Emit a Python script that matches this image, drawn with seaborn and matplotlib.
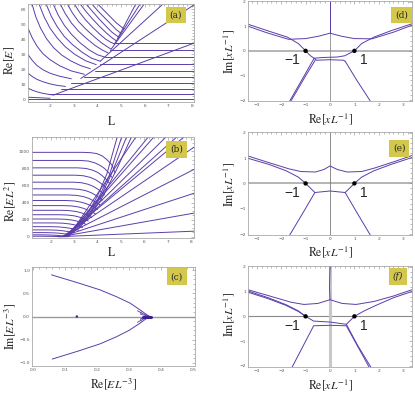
import matplotlib
matplotlib.use("Agg")
import matplotlib.pyplot as plt
import seaborn as sns
import pandas as pd
from matplotlib.ticker import MultipleLocator

# ---------------- values ----------------
# (a) Re[E] against L
a_falling = [
    [(1.07, 1.5), (1.5, 1.2), (2.0, 0.8)],
    [(1.07, 7.5), (1.25, 6.2), (1.45, 5.1), (1.7, 4.1), (1.95, 3.4), (2.15, 3.0)],
    [(1.07, 17.5), (1.25, 15.3), (1.45, 13.4), (1.7, 11.8), (2.0, 10.4), (2.3, 9.4), (2.65, 8.7)],
    [(1.07, 30), (1.25, 26), (1.45, 22.6), (1.7, 19.8), (2.0, 17.5), (2.4, 15.5), (2.9, 13.8)],
    [(1.07, 47.5), (1.25, 41), (1.45, 35.5), (1.7, 30.5), (2.0, 26.5), (2.4, 22.5),
     (2.9, 19.0), (3.45, 16.8)],
    [(1.25, 63), (1.4, 55), (1.6, 47.5), (1.85, 40.5), (2.15, 34.5), (2.5, 29.5),
     (2.9, 25.5), (3.3, 22.5), (3.7, 20.5)],
    [(1.55, 63), (1.75, 55), (2.0, 47.5), (2.3, 41), (2.65, 35), (3.05, 30), (3.5, 25.8),
     (3.95, 23.2)],
    [(1.85, 63), (2.05, 55.5), (2.3, 48.5), (2.6, 42), (2.95, 36.5), (3.35, 31.5),
     (3.75, 27.5), (4.12, 25.5)],
    [(2.15, 63), (2.35, 56), (2.6, 49.5), (2.9, 43.5), (3.25, 38), (3.65, 33), (4.0, 29.8),
     (4.3, 28.3)],
    [(2.45, 63), (2.65, 57), (2.9, 51), (3.2, 45.5), (3.55, 40.5), (3.9, 36), (4.2, 33),
     (4.45, 31)],
    [(2.75, 63), (2.95, 57.5), (3.2, 52), (3.5, 47), (3.85, 42), (4.15, 38), (4.4, 35.3),
     (4.58, 33.5)],
    [(3.05, 63), (3.25, 58), (3.5, 53), (3.8, 48), (4.1, 43.5), (4.35, 40.2), (4.55, 38.2),
     (4.72, 37)],
    [(3.3, 63), (3.55, 58), (3.8, 53.5), (4.1, 48.5), (4.4, 44), (4.6, 41.3), (4.8, 39)],
    [(3.55, 63), (3.8, 58.5), (4.05, 54), (4.35, 49), (4.6, 45), (4.9, 41.5)],
    [(3.8, 63), (4.05, 58.5), (4.3, 54.5), (4.55, 50.5), (4.8, 46.5), (5.0, 44)],
    [(4.05, 63), (4.3, 59), (4.55, 55), (4.8, 51), (5.12, 47)],
]
a_levels = [0.3, 3.5, 6.8, 10.8, 15.2, 19.3, 23.6, 28.3, 33.0, 37.5]
a_level_start = [1.07, 1.95, 2.45, 2.9, 3.45, 3.9, 4.12, 4.33, 4.54, 4.75]
a_level_end = 8.08
a_rising = [
    [(2.15, 3.0), (8.08, 37.5)],
    [(3.3, 14.0), (8.08, 63)],
    [(4.12, 25.5), (6.73, 63)],
    [(4.58, 33.5), (5.95, 63)],
    [(4.72, 37.0), (5.78, 63)],
    [(4.85, 40.5), (5.6, 63)],
]

# (b) Re[E L^2] against L
b_bent = [
    [(1.19, 990), (3.38, 990), (3.7, 986), (3.96, 976), (4.2, 948), (4.39, 906), (4.55, 862),
     (4.64, 828), (4.74, 750)],
    [(1.19, 895), (3.25, 895), (3.6, 888), (3.9, 865), (4.12, 835), (4.3, 800), (4.48, 750),
     (4.6, 700)],
    [(1.19, 808), (3.15, 808), (3.5, 801), (3.8, 780), (4.02, 752), (4.2, 715), (4.38, 670),
     (4.5, 630)],
    [(1.19, 722), (3.05, 722), (3.4, 715), (3.7, 695), (3.92, 668), (4.1, 635), (4.28, 595),
     (4.4, 560)],
    [(1.19, 640), (2.95, 640), (3.3, 634), (3.6, 615), (3.82, 590), (4.0, 560), (4.18, 522),
     (4.3, 490)],
    [(1.19, 562), (2.85, 562), (3.2, 556), (3.5, 540), (3.72, 517), (3.9, 490), (4.08, 456),
     (4.2, 430)],
    [(1.19, 490), (2.75, 490), (3.1, 485), (3.4, 470), (3.62, 450), (3.8, 425), (3.98, 396),
     (4.1, 375)],
    [(1.19, 425), (2.65, 425), (3.0, 420), (3.3, 405), (3.52, 387), (3.7, 365), (3.88, 340),
     (4.0, 320)],
    [(1.19, 365), (2.55, 365), (2.9, 361), (3.2, 348), (3.42, 331), (3.6, 310), (3.78, 287),
     (3.9, 270)],
    [(1.19, 310), (2.45, 310), (2.8, 306), (3.1, 295), (3.32, 279), (3.5, 260), (3.65, 240),
     (3.75, 225)],
    [(1.19, 258), (2.35, 258), (2.7, 255), (3.0, 245), (3.22, 230), (3.4, 212), (3.52, 198),
     (3.6, 185)],
    [(1.19, 208), (2.25, 208), (2.6, 205), (2.9, 196), (3.12, 183), (3.3, 168), (3.42, 155),
     (3.5, 145)],
    [(1.19, 162), (2.15, 162), (2.5, 159), (2.8, 150), (3.0, 140), (3.15, 128), (3.27, 117),
     (3.35, 108)],
    [(1.19, 118), (2.0, 118), (2.35, 115), (2.6, 108), (2.82, 99), (3.0, 90), (3.12, 82),
     (3.2, 75)],
    [(1.19, 80), (1.9, 80), (2.25, 77), (2.5, 70), (2.7, 62), (2.85, 55), (3.0, 45)],
    [(1.19, 48), (1.8, 48), (2.15, 45), (2.4, 40), (2.57, 34), (2.7, 28), (2.85, 20)],
    [(1.19, 22), (1.6, 22), (1.95, 20), (2.2, 17), (2.37, 13.5), (2.5, 10), (2.7, 5)],
    [(1.19, 6), (1.5, 6), (2.1, 4), (2.4, 1)],
]
b_fan = [
    [(2.3, 0), (8.13, 65)],
    [(2.4, 0), (8.13, 277)],
    [(2.45, 0), (8.13, 510)],
    [(2.5, 0), (8.13, 790)],
    [(2.5, 0), (8.13, 1050)],
    [(2.55, 0), (7.7, 1170)],
    [(2.6, 0), (7.39, 1170)],
    [(2.6, 0), (6.93, 1170)],
    [(2.65, 0), (6.41, 1170)],
    [(2.7, 0), (6.17, 1170)],
    [(2.75, 0), (5.64, 1170)],
]
b_bundle = [
    [(2.5, 0), (3.0, 90), (3.5, 240), (4.0, 480), (4.4, 740), (4.84, 1170)],
    [(2.55, 0), (3.0, 80), (3.5, 210), (4.0, 430), (4.5, 720), (5.03, 1170)],
    [(2.6, 0), (3.1, 90), (3.6, 230), (4.1, 450), (4.6, 740), (5.24, 1170)],
    [(2.65, 0), (3.2, 100), (3.7, 250), (4.2, 460), (4.8, 780), (5.45, 1170)],
]

# (c) Im[E L^-3] against Re[E L^-3]
c_branches = [
    [(0.058, 0.90), (0.137, 0.735), (0.209, 0.577), (0.26, 0.43), (0.303, 0.29),
     (0.334, 0.145), (0.355, 0.04), (0.365, 0.0)],
    [(0.06, -0.92), (0.14, -0.75), (0.21, -0.59), (0.26, -0.44), (0.30, -0.30),
     (0.333, -0.15), (0.355, -0.04), (0.365, 0.0)],
]
c_wiggles = [
    [(0.326, 0.125), (0.345, 0.055), (0.36, 0.012)],
    [(0.338, 0.10), (0.336, 0.05), (0.352, 0.02), (0.362, 0.0)],
    [(0.326, -0.125), (0.345, -0.055), (0.36, -0.012)],
    [(0.338, -0.10), (0.336, -0.05), (0.352, -0.02), (0.362, 0.0)],
]
c_knot = [[(0.345, 0.0), (0.368, 0.0)]]
c_dot_x = [0.137]
c_dot_y = [0.0]

# (d), (e), (f) Im[x L^-1] against Re[x L^-1]
d_curves = [
    [(0.0, 2.04), (0.0, 0.72)],
    [(-3.35, 1.0), (-2.6, 0.74), (-1.7, 0.47), (-1.0, 0.5), (-0.45, 0.6), (0.0, 0.72),
     (0.45, 0.6), (1.0, 0.5), (1.72, 0.49), (2.6, 0.76), (3.35, 1.04)],
    [(-3.35, 1.08), (-2.5, 0.8), (-1.75, 0.56), (-1.3, 0.3), (-1.0, 0.0)],
    [(3.35, 1.1), (2.5, 0.82), (1.8, 0.56), (1.3, 0.3), (1.0, 0.0)],
    [(-1.0, 0.0), (-0.8, -0.2), (-0.65, -0.3), (-0.3, -0.27), (0.3, -0.25),
     (0.6, -0.2), (0.8, -0.1), (1.0, 0.0)],
    [(-0.65, -0.3), (-0.55, -0.38), (0.0, -0.36), (0.55, -0.38), (0.62, -0.42)],
    [(-0.65, -0.3), (-1.05, -1.0), (-1.65, -2.04)],
    [(-0.6, -0.37), (-1.02, -1.05), (-1.6, -2.04)],
    [(0.62, -0.42), (1.1, -1.2), (1.65, -2.04)],
]
e_curves = [
    [(-3.35, 1.08), (-2.5, 0.82), (-1.7, 0.58), (-1.2, 0.47), (-0.6, 0.45),
     (-0.25, 0.55), (0.0, 0.69), (0.3, 0.55), (0.7, 0.45), (1.3, 0.47),
     (1.8, 0.6), (2.6, 0.85), (3.35, 1.1)],
    [(-3.35, 0.99), (-2.5, 0.75), (-1.8, 0.5), (-1.3, 0.25), (-1.0, 0.0)],
    [(3.35, 1.02), (2.5, 0.75), (1.8, 0.5), (1.3, 0.25), (1.0, 0.0)],
    [(-1.0, 0.0), (-0.62, -0.36), (0.0, -0.3), (0.62, -0.36), (1.0, 0.0)],
    [(-0.62, -0.36), (-1.1, -1.15), (-1.65, -2.04)],
    [(0.62, -0.36), (1.1, -1.15), (1.65, -2.04)],
]
f_curves = [
    [(0.0, 2.04), (-0.02, 1.2), (0.0, 0.67)],
    [(-3.35, 1.07), (-2.4, 0.8), (-1.6, 0.57), (-1.07, 0.48), (-0.5, 0.52), (0.0, 0.67),
     (0.5, 0.52), (1.07, 0.48), (1.8, 0.6), (2.6, 0.82), (3.35, 1.07)],
    [(-3.35, 1.02), (-2.5, 0.74), (-1.8, 0.47), (-1.3, 0.22), (-1.0, 0.0)],
    [(-3.35, 0.97), (-2.5, 0.7), (-1.8, 0.44), (-1.3, 0.2), (-1.0, 0.0)],
    [(1.0, 0.0), (1.4, 0.22), (1.9, 0.45), (2.6, 0.75), (3.35, 1.0)],
    [(-1.0, 0.0), (-0.67, -0.19), (0.0, -0.23), (0.67, -0.32), (1.0, 0.0)],
    [(-1.55, -2.04), (-0.67, -0.38), (0.0, -0.36), (0.67, -0.38), (1.6, -2.04)],
    [(0.67, -0.32), (1.12, -1.15), (1.67, -2.04)],
]
turning_x = [-1.0, 1.0]
turning_y = [0.0, 0.0]
turning_text = ["\u22121", "1"]
turning_text_x = [-1.55, 1.37]
turning_text_y = [-0.37, -0.37]

PURPLE = "#5b3daa"
FRAME = "#a8a8a8"
TAG_BG = "#d4c84c"

sns.set_style("white")
plt.rcParams["font.family"] = ["DejaVu Sans"]
plt.rcParams["mathtext.fontset"] = "stix"


def to_frame(curves):
    rows = [(i, x, y) for i, pts in enumerate(curves) for x, y in pts]
    return pd.DataFrame(rows, columns=["curve", "x", "y"])


def draw(ax, curves, lw=0.7, color=PURPLE):
    sns.lineplot(data=to_frame(curves), x="x", y="y", units="curve", estimator=None,
                 sort=False, color=color, lw=lw, ax=ax, legend=False)


def style(ax, xlim, ylim, xmaj, xmin, ymaj, ymin, xlabel, ylabel, xl_pos, yl_pos,
          tag, tag_pos, tag_italic=False):
    ax.set_xlim(xlim)
    ax.set_ylim(ylim)
    ax.xaxis.set_major_locator(MultipleLocator(xmaj))
    ax.xaxis.set_minor_locator(MultipleLocator(xmin))
    ax.yaxis.set_major_locator(MultipleLocator(ymaj))
    ax.yaxis.set_minor_locator(MultipleLocator(ymin))
    ax.tick_params(which="both", direction="in", top=True, right=True,
                   labelsize=3.2, color="#888888", labelcolor="#555555",
                   width=0.4, pad=1.5)
    ax.tick_params(which="major", length=2.4)
    ax.tick_params(which="minor", length=1.2)
    for s in ax.spines.values():
        s.set_color(FRAME)
        s.set_linewidth(0.6)
    ax.set_xlabel(xlabel, fontsize=8.5)
    ax.set_ylabel(ylabel, fontsize=8.5)
    ax.xaxis.set_label_coords(*xl_pos)
    ax.xaxis.label.set_va("center")
    ax.yaxis.set_label_coords(*yl_pos)
    ax.yaxis.label.set_va("center")
    ax.text(tag_pos[0], tag_pos[1], tag, transform=ax.transAxes, ha="center",
            va="center", fontsize=6.5, family="serif",
            style="italic" if tag_italic else "normal",
            bbox=dict(boxstyle="square,pad=0.42", fc=TAG_BG, ec="none"))


fig = plt.figure(figsize=(4.15, 3.93), dpi=100)

# (a)
ax_a = fig.add_axes([0.0675, 0.7405, 0.4, 0.249])
level_lines = [[(s, v), (a_level_end, v)] for s, v in zip(a_level_start, a_levels)]
draw(ax_a, level_lines)
draw(ax_a, a_falling)
draw(ax_a, a_rising)
style(ax_a, (1.07, 8.08), (-1.66, 63.5), 1, 0.2, 10, 2,
      r"$\mathrm{L}$", r"$\mathrm{Re}[E]$", (0.506, -0.204), (-0.108, 0.42),
      "(a)", (0.89, 0.888))

# (b)
ax_b = fig.add_axes([0.0771, 0.3944, 0.3904, 0.257])
draw(ax_b, b_bent)
draw(ax_b, b_fan)
draw(ax_b, b_bundle)
style(ax_b, (1.19, 8.13), (-15, 1170), 1, 0.2, 200, 50,
      r"$\mathrm{L}$", r"$\mathrm{Re}[EL^{2}]$", (0.49, -0.146), (-0.136, 0.36),
      "(b)", (0.893, 0.878))

# (c)
ax_c = fig.add_axes([0.0771, 0.0687, 0.3928, 0.2519])
ax_c.axhline(0, color="#9a9a9a", lw=1.0, zorder=0)
draw(ax_c, c_branches)
draw(ax_c, c_wiggles, lw=0.6)
draw(ax_c, c_knot, lw=2.2, color="#3a2090")
sns.scatterplot(x=c_dot_x, y=c_dot_y, ax=ax_c, s=3, color="#3a2090",
                edgecolor="none", legend=False)
style(ax_c, (-0.003, 0.506), (-1.07, 1.07), 0.1, 0.02, 0.5, 0.1,
      r"$\mathrm{Re}[EL^{-3}]$", r"$\mathrm{Im}[EL^{-3}]$", (0.497, -0.18),
      (-0.135, 0.397), "(c)", (0.888, 0.902))

# (d), (e), (f)
right_panels = [
    ([0.5976, 0.743, 0.3952, 0.2545], d_curves, "(d)", (0.937, 0.86), False,
     (-0.183, 0.49), "#a0a0a0", 1.1, "#8c8c8c", 0.6),
    ([0.5976, 0.402, 0.3952, 0.262], e_curves, "(e)", (0.923, 0.842), False,
     (-0.162, 0.495), "#b4b4b4", 1.4, "#7a7a7a", 0.6),
    ([0.5976, 0.0662, 0.3952, 0.257], f_curves, "(f)", (0.916, 0.894), True,
     (-0.178, 0.515), "#8a8a8a", 0.8, "#c8c8c8", 2.2),
]
for rect, curves, tag, tag_pos, ital, xly, hcol, hlw, vcol, vlw in right_panels:
    ax = fig.add_axes(rect)
    ax.axhline(0, color=hcol, lw=hlw, zorder=0)
    ax.axvline(0, color=vcol, lw=vlw, zorder=0)
    draw(ax, curves)
    sns.scatterplot(x=turning_x, y=turning_y, ax=ax, s=10, color="black",
                    edgecolor="none", legend=False, zorder=5)
    for tx, ty, t in zip(turning_text_x, turning_text_y, turning_text):
        ax.text(tx, ty, t, ha="center", va="center", fontsize=10,
                family="Liberation Sans")
    style(ax, (-3.36, 3.36), (-2.04, 2.03), 1, 0.2, 1, 0.2,
          r"$\mathrm{Re}[xL^{-1}]$", r"$\mathrm{Im}[xL^{-1}]$", (0.5, xly[0]),
          (-0.116, xly[1]), tag, tag_pos, ital)

fig.savefig("out.png", dpi=100)
